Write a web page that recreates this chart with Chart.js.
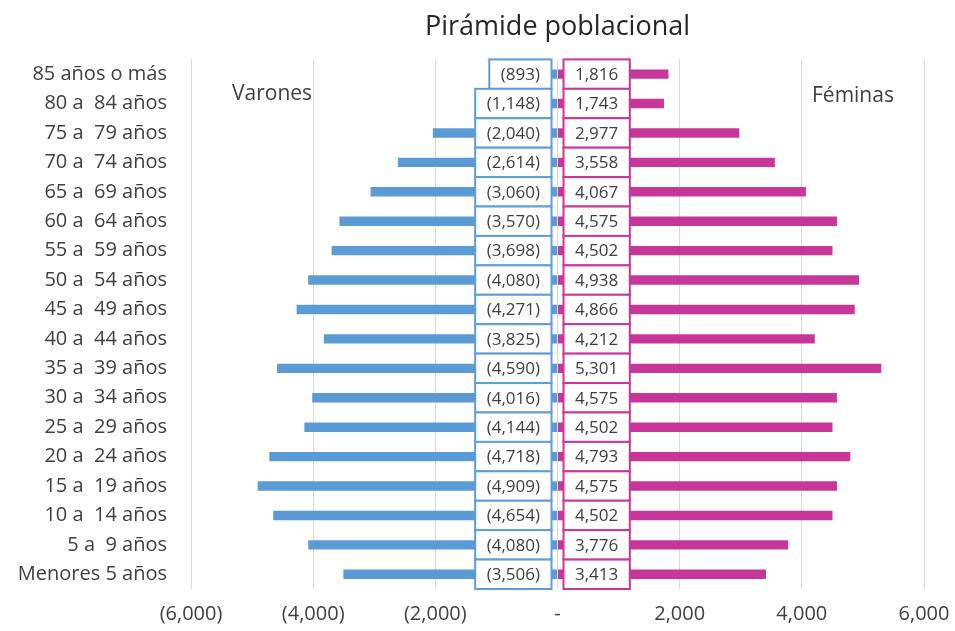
<!DOCTYPE html>
<html>
<head>
<meta charset="utf-8">
<script src="https://cdn.jsdelivr.net/npm/chart.js@4/dist/chart.umd.min.js"></script>
<style>
  html, body { margin: 0; padding: 0; background: #ffffff; }
  #wrap { width: 955px; height: 631px; position: relative; }
</style>
</head>
<body>
<div id="wrap"><canvas id="c" width="955" height="631"></canvas></div>
<script>
const categories = [
  "85 años o más", "80 a  84 años", "75 a  79 años", "70 a  74 años",
  "65 a  69 años", "60 a  64 años", "55 a  59 años", "50 a  54 años",
  "45 a  49 años", "40 a  44 años", "35 a  39 años", "30 a  34 años",
  "25 a  29 años", "20 a  24 años", "15 a  19 años", "10 a  14 años",
  "5 a  9 años", "Menores 5 años"
];
const varones = [893, 1148, 2040, 2614, 3060, 3570, 3698, 4080, 4271, 3825, 4590, 4016, 4144, 4718, 4909, 4654, 4080, 3506];
const feminas = [1816, 1743, 2977, 3558, 4067, 4575, 4502, 4938, 4866, 4212, 5301, 4575, 4502, 4793, 4575, 4502, 3776, 3413];
const xTicks = [-6000, -4000, -2000, 0, 2000, 4000, 6000];
const titleText = "Pirámide poblacional";
const sideLabels = ["Varones", "Féminas"];

const FONT = "'Open Sans', 'Noto Sans', sans-serif";
const MALE = "#5B9BD5";
const FEMALE = "#C7379A";
const TXT = "#404040";

function fmt(n) {
  const s = Math.abs(n).toLocaleString('en-US');
  if (n < 0) return "(" + s + ")";
  if (n === 0) return "-";
  return s;
}

const boxPlugin = {
  id: 'boxLabels',
  afterDatasetsDraw(chart) {
    const ctx = chart.ctx;
    const xs = chart.scales.x;
    const ys = chart.scales.y;
    const zero = xs.getPixelForValue(0);
    const h = (ys.bottom - ys.top) / categories.length;
    ctx.save();
    ctx.font = "17px " + FONT;
    ctx.textBaseline = 'middle';
    ctx.textAlign = 'center';
    ctx.lineWidth = 2;
    chart.data.datasets.forEach((ds, di) => {
      const meta = chart.getDatasetMeta(di);
      meta.data.forEach((el, i) => {
        const raw = ds.data[i];
        const txt = fmt(raw);
        const w = ctx.measureText(txt).width + 23;
        const y = el.y;
        let left;
        if (raw < 0) left = zero - 6 - w; else left = zero + 6;
        ctx.fillStyle = '#ffffff';
        ctx.fillRect(left, y - h / 2, w, h);
        ctx.strokeStyle = raw < 0 ? '#5F9DD2' : FEMALE;
        ctx.strokeRect(left, y - h / 2, w, h);
        ctx.fillStyle = TXT;
        ctx.fillText(txt, left + w / 2, y + 1);
      });
    });
    ctx.restore();
  },
  afterDraw(chart) {
    const ctx = chart.ctx;
    const ca = chart.chartArea;
    ctx.save();
    ctx.font = "21px " + FONT;
    ctx.fillStyle = TXT;
    ctx.textBaseline = 'alphabetic';
    ctx.textAlign = 'left';
    ctx.fillText(sideLabels[0], ca.left + 41, ca.top + 41);
    ctx.fillText(sideLabels[1], ca.right - 112, ca.top + 43);
    ctx.restore();
  }
};

new Chart(document.getElementById('c'), {
  type: 'bar',
  data: {
    labels: categories,
    datasets: [
      { label: 'Varones', data: varones.map(v => -v), backgroundColor: MALE, grouped: false,
        barPercentage: 0.32, categoryPercentage: 1 },
      { label: 'Féminas', data: feminas, backgroundColor: FEMALE, grouped: false,
        barPercentage: 0.32, categoryPercentage: 1 }
    ]
  },
  options: {
    indexAxis: 'y',
    responsive: false,
    animation: false,
    layout: { padding: { left: 0, right: 31, top: 0, bottom: 0 } },
    plugins: {
      legend: { display: false },
      tooltip: { enabled: false },
      title: {
        display: true,
        text: titleText,
        fullSize: false,
        color: '#262626',
        font: { family: FONT, size: 27, weight: 'normal' },
        padding: { top: 11, bottom: 16 }
      }
    },
    scales: {
      x: {
        min: xTicks[0],
        max: xTicks[xTicks.length - 1],
        afterBuildTicks(scale) { scale.ticks = xTicks.map(v => ({ value: v })); },
        afterFit(scale) {
          scale.height = 42;
          scale.paddingLeft = 0;
          scale.paddingRight = 0;
        },
        grid: { color: '#D9D9D9', lineWidth: 1, drawTicks: false },
        border: { display: false },
        ticks: {
          color: TXT,
          padding: 13,
          maxRotation: 0,
          font: { family: FONT, size: 20 },
          callback: (v) => fmt(v)
        }
      },
      y: {
        afterFit(scale) { scale.width = 191; },
        grid: { display: false, drawTicks: false },
        border: { display: false },
        ticks: {
          color: TXT,
          padding: 24,
          font: { family: FONT, size: 20 },
          autoSkip: false
        }
      }
    }
  },
  plugins: [boxPlugin]
});
</script>
</body>
</html>
